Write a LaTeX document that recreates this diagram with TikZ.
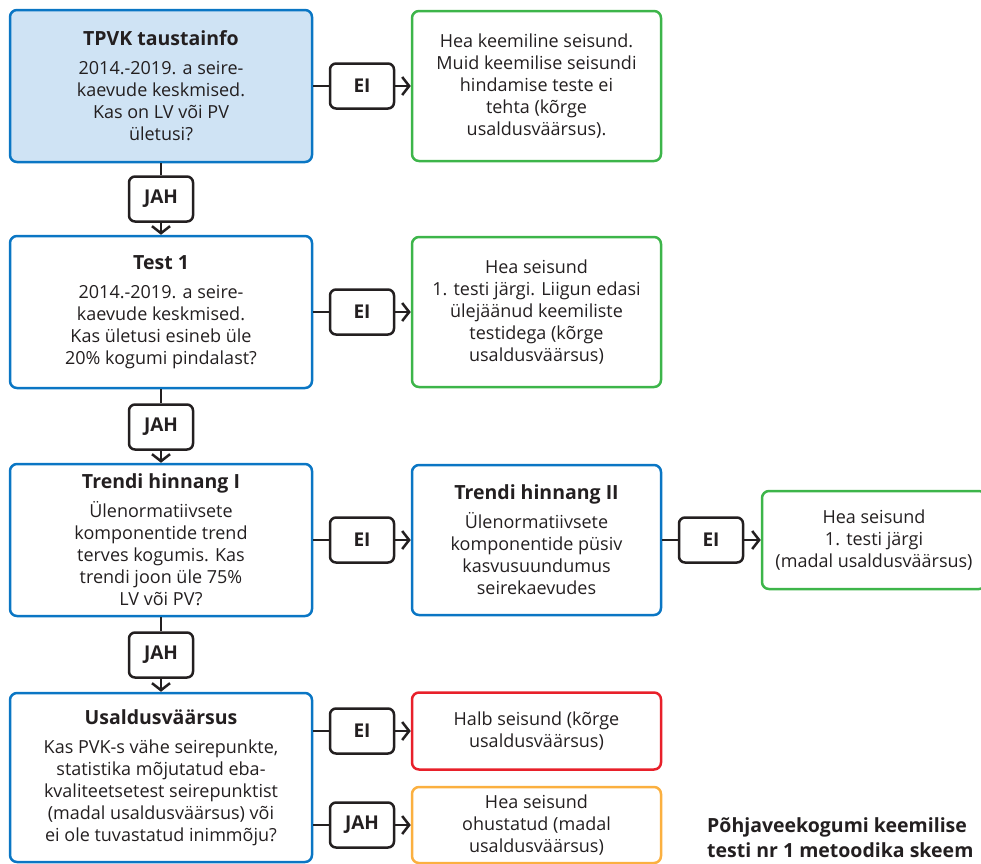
\documentclass[tikz,border=0pt]{standalone}
\usepackage{fontspec}
\setmainfont{Open Sans}
\usepackage{xcolor}
\usetikzlibrary{arrows.meta, positioning}

\definecolor{pvblue}{HTML}{0A76C4}
\definecolor{pvfill}{HTML}{CFE3F4}
\definecolor{okgreen}{HTML}{3DB54A}
\definecolor{badred}{HTML}{E8202A}
\definecolor{warnorange}{HTML}{FBB040}
\definecolor{ink}{HTML}{231F20}

\newcommand{\boxtitle}[1]{{\bfseries\fontsize{19.5}{22}\selectfont #1}\\[7pt]}

\begin{document}
\begin{tikzpicture}[x=1pt, y=-1pt,
    stage/.style={rectangle, rounded corners=7pt, draw=pvblue, line width=2.5pt, minimum width=302pt, minimum height=152pt, align=center, text=ink, font=\fontsize{18}{22}\selectfont},
    result/.style={rectangle, rounded corners=7pt, line width=2.5pt, minimum width=249pt, minimum height=150pt, align=center, text=ink, font=\fontsize{18}{22}\selectfont},
    answer/.style={rectangle, rounded corners=6pt, draw=ink, fill=white, line width=2.5pt, minimum width=64pt, minimum height=45pt, inner sep=0pt, text=ink, font=\bfseries\fontsize{19}{20}\selectfont},
    link/.style={draw=ink, line width=2.5pt},
    arrow/.style={link, -{Straight Barb[length=7pt, width=18pt]}}
]
\useasboundingbox (0,0) rectangle (981,863);

% left column
\node[stage, fill=pvfill] (info) at (161,86) {\boxtitle{TPVK taustainfo}2014.-2019. a seire-\\kaevude keskmised.\\Kas on LV või PV\\ületusi?};
\node[answer] (jah1) at (161,199) {JAH};
\node[stage] (test1) at (161,312) {\boxtitle{Test 1}2014.-2019. a seire-\\kaevude keskmised.\\Kas ületusi esineb üle\\20\% kogumi pindalast?};
\node[answer] (jah2) at (161,427) {JAH};
\node[stage] (trend1) at (161,540) {\boxtitle{Trendi hinnang I}Ülenormatiivsete\\komponentide trend\\terves kogumis. Kas\\trendi joon üle 75\%\\LV või PV?};
\node[answer] (jah3) at (161,655) {JAH};
\node[stage, minimum height=169pt] (trust) at (161,777.5) {\boxtitle{Usaldusväärsus}Kas PVK-s vähe seirepunkte,\\statistika mõjutatud eba-\\kvaliteetsetest seirepunktist\\(madal usaldusväärsus) või\\ei ole tuvastatud inimmõju?};

% answers to the right
\node[answer] (ei1) at (362,86) {EI};
\node[answer] (ei2) at (362,312) {EI};
\node[answer] (ei3) at (362,540) {EI};
\node[answer] (ei4) at (711,540) {EI};
\node[answer] (ei5) at (362,731) {EI};
\node[answer] (jah4) at (362,825) {JAH};

% right column
\node[result, draw=okgreen] (good1) at (536.5,86) {Hea keemiline seisund.\\Muid keemilise seisundi\\hindamise teste ei\\tehta (kõrge\\usaldusväärsus).};
\node[result, draw=okgreen] (good2) at (536.5,312) {Hea seisund\\1. testi järgi. Liigun edasi\\ülejäänud keemiliste\\testidega (kõrge\\usaldusväärsus)};
\node[result, draw=pvblue] (trend2) at (536.5,540) {\boxtitle{Trendi hinnang II}Ülenormatiivsete\\komponentide püsiv\\kasvusuundumus\\seirekaevudes};
\node[result, draw=okgreen, minimum width=224pt, minimum height=98pt] (good3) at (874,540) {Hea seisund\\1. testi järgi\\(madal usaldusväärsus)};
\node[result, draw=badred, minimum height=77pt] (bad) at (536.5,731) {Halb seisund (kõrge\\usaldusväärsus)};
\node[result, draw=warnorange, minimum height=76pt] (risk) at (536.5,825) {Hea seisund\\ohustatud (madal\\usaldusväärsus)};

\node[anchor=north west, inner sep=0pt, align=left, text=ink, font=\bfseries\fontsize{19.5}{25}\selectfont] (caption) at (707,817) {Põhjaveekogumi keemilise\\testi nr 1 metoodika skeem};

% connectors
\draw[link] (info) -- (jah1);
\draw[arrow] (jah1) -- (test1);
\draw[link] (test1) -- (jah2);
\draw[arrow] (jah2) -- (trend1);
\draw[link] (trend1) -- (jah3);
\draw[arrow] (jah3) -- (trust);

\draw[link] (info) -- (ei1);
\draw[arrow] (ei1) -- (good1);
\draw[link] (test1) -- (ei2);
\draw[arrow] (ei2) -- (good2);
\draw[link] (trend1) -- (ei3);
\draw[arrow] (ei3) -- (trend2);
\draw[link] (trend2) -- (ei4);
\draw[arrow] (ei4) -- (good3);
\draw[link] (trust.east |- ei5) -- (ei5);
\draw[arrow] (ei5) -- (bad);
\draw[link] (trust.east |- jah4) -- (jah4);
\draw[arrow] (jah4) -- (risk);
\end{tikzpicture}
\end{document}
